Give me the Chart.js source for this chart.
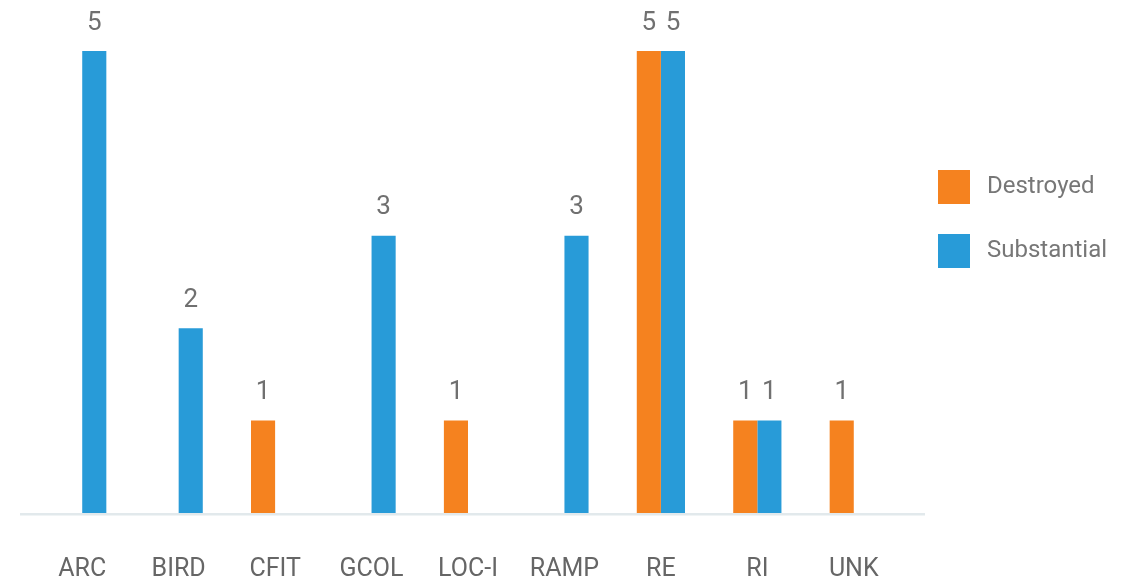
<!DOCTYPE html>
<html lang="en">
  <head>
    <meta charset="UTF-8" />
    <title>Damage by occurrence category</title>
    <script src="https://cdn.jsdelivr.net/npm/chart.js"></script>
    <style>
      body { margin: 0; background: #fff; }
      .chart-container { width: 1127px; height: 582px; position: relative; }
    </style>
  </head>
  <body>
    <div class="chart-container">
      <canvas id="barChart"></canvas>
    </div>
    <script>
      var categories = ["ARC", "BIRD", "CFIT", "GCOL", "LOC-I", "RAMP", "RE", "RI", "UNK"];
      var destroyed = [null, null, 1, null, 1, null, 5, 1, 1];
      var substantial = [5, 2, null, 3, null, 3, 5, 1, null];
      var seriesNames = ["Destroyed", "Substantial"];

      var FONT = "Roboto, 'Liberation Sans', sans-serif";

      // numbers above each bar
      var valueLabels = {
        id: "valueLabels",
        afterDatasetsDraw: function (chart) {
          var ctx = chart.ctx;
          ctx.save();
          ctx.font = "26px " + FONT;
          ctx.fillStyle = "#707070";
          ctx.textAlign = "center";
          ctx.textBaseline = "middle";
          chart.data.datasets.forEach(function (ds, i) {
            chart.getDatasetMeta(i).data.forEach(function (bar, j) {
              if (ds.data[j] == null) return;
              ctx.fillText(ds.data[j], bar.x, bar.y - 28);
            });
          });
          ctx.restore();
        },
      };

      // light base line and legend on the right
      var extras = {
        id: "extras",
        beforeDatasetsDraw: function (chart) {
          var ctx = chart.ctx;
          var y = chart.chartArea.bottom + 1.25;
          ctx.save();
          ctx.strokeStyle = "#e2e9ec";
          ctx.lineWidth = 2.5;
          ctx.beginPath();
          ctx.moveTo(20, y);
          ctx.lineTo(925, y);
          ctx.stroke();
          ctx.restore();
        },
        afterDraw: function (chart) {
          var ctx = chart.ctx;
          ctx.save();
          ctx.font = "24px " + FONT;
          ctx.textBaseline = "middle";
          chart.data.datasets.forEach(function (ds, i) {
            var top = 170 + i * 64;
            ctx.fillStyle = ds.backgroundColor;
            ctx.fillRect(938, top, 32, 34);
            ctx.fillStyle = "#777777";
            ctx.fillText(ds.label, 987, top + 17);
          });
          ctx.restore();
        },
      };

      var ctxBar = document.getElementById("barChart").getContext("2d");
      var myBarChart = new Chart(ctxBar, {
        type: "bar",
        data: {
          labels: categories,
          datasets: [
            {
              label: seriesNames[0],
              data: destroyed,
              backgroundColor: "#f5821f",
              categoryPercentage: 0.5,
              barPercentage: 1.0,
            },
            {
              label: seriesNames[1],
              data: substantial,
              backgroundColor: "#289bd8",
              categoryPercentage: 0.5,
              barPercentage: 1.0,
            },
          ],
        },
        options: {
          responsive: true,
          maintainAspectRatio: false,
          animation: false,
          layout: {
            padding: { top: 51, left: 34, right: 225, bottom: 0 },
          },
          plugins: {
            legend: { display: false },
            tooltip: { enabled: false },
          },
          scales: {
            x: {
              grid: { display: false },
              border: { display: false },
              ticks: {
                color: "#666666",
                padding: 34,
                maxRotation: 0,
                font: { family: FONT, size: 25 },
              },
              afterFit: function (scale) {
                scale.height = 69;
              },
            },
            y: {
              display: false,
              min: 0,
              max: 5,
            },
          },
        },
        plugins: [valueLabels, extras],
      });
    </script>
  </body>
</html>
